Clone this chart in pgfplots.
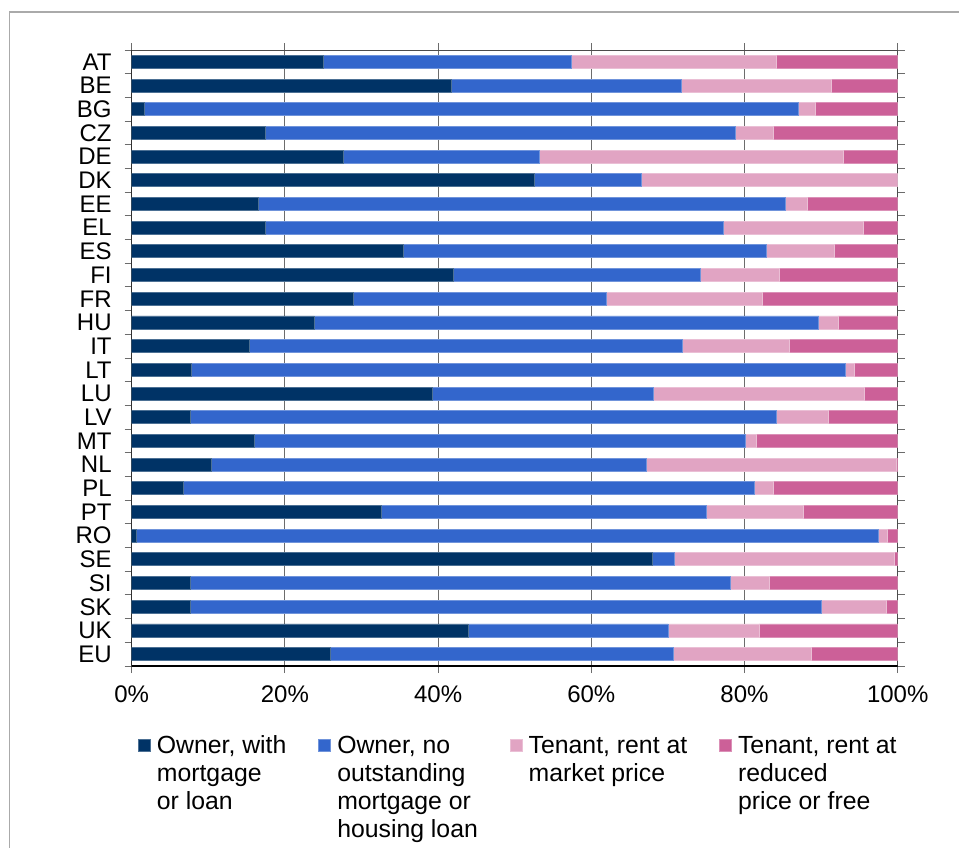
\documentclass[border=0pt]{standalone}
\usepackage{fontspec}
\setmainfont{Liberation Sans}
\usepackage{pgfplots}
\usepackage{pgfplotstable}
\pgfplotsset{compat=1.18}

\definecolor{ownmort}{RGB}{0,51,102}
\definecolor{ownfree}{RGB}{51,102,204}
\definecolor{tenmkt}{RGB}{225,164,195}
\definecolor{tenred}{RGB}{204,96,152}
\definecolor{frame}{RGB}{170,170,170}

% shares of population by tenure status, %
\pgfplotstableread{
i  c   a     b     t     r
0  AT  25.0  32.4  26.7  15.9
1  BE  41.7  30.0  19.7   8.6
2  BG   1.7  85.3   2.2  10.8
3  CZ  17.5  61.3   5.0  16.2
4  DE  27.7  25.5  39.7   7.1
5  DK  52.6  14.0  33.4   0.0
6  EE  16.6  68.8   2.8  11.8
7  EL  17.4  59.8  18.3   4.5
8  ES  35.5  47.4   8.9   8.2
9  FI  42.0  32.3  10.2  15.5
10 FR  29.0  33.0  20.3  17.7
11 HU  23.8  65.9   2.5   7.8
12 IT  15.4  56.5  14.0  14.1
13 LT   7.8  85.4   1.2   5.6
14 LU  39.3  28.8  27.6   4.3
15 LV   7.6  76.5   6.8   9.1
16 MT  16.0  64.1   1.4  18.5
17 NL  10.4  56.8  32.6   0.2
18 PL   6.7  74.6   2.5  16.2
19 PT  32.6  42.4  12.7  12.3
20 RO   0.6  96.9   1.2   1.3
21 SE  68.0   2.8  28.8   0.4
22 SI   7.6  70.5   5.1  16.8
23 SK   7.6  82.4   8.5   1.5
24 UK  43.9  26.1  11.9  18.1
25 EU  26.0  44.7  18.0  11.3
}\tenure

\begin{document}
\begin{tikzpicture}
\useasboundingbox (0,0) rectangle (479.5pt,423.5pt);
\draw[frame, line width=0.8pt] (4.75pt,-5pt) -- (4.75pt,417.5pt) -- (490pt,417.5pt);
\begin{axis}[
  at={(65.85pt,90.5pt)}, anchor=south west,
  scale only axis, width=383pt, height=308pt,
  xbar stacked, bar width=6.5pt,
  xmin=0, xmax=100, ymin=-0.5, ymax=25.5, y dir=reverse,
  xtick={0,20,40,60,80,100},
  xticklabels={0\%,20\%,40\%,60\%,80\%,100\%},
  ytick={0,...,25},
  yticklabels={AT,BE,BG,CZ,DE,DK,EE,EL,ES,FI,FR,HU,IT,LT,LU,LV,MT,NL,PL,PT,RO,SE,SI,SK,UK,EU},
  minor ytick={-0.5,0.5,...,25.5},
  xmajorgrids, grid style={gray!85!black, line width=0.5pt},
  tick align=outside, major tick length=3.5pt, minor tick length=3.5pt,
  every major y tick/.style={draw=none},
  tick style={gray!85!black, line width=0.5pt},
  axis line style={gray!60!black, line width=0.5pt},
  tick label style={font=\fontsize{12pt}{14pt}\selectfont},
  yticklabel style={xshift=-3pt},
  xticklabel style={yshift=-3pt},
  legend columns=4,
  legend cell align=left,
  legend style={draw=none, fill=none, at={(0,-0.097)}, anchor=north west,
    font=\fontsize{12.4pt}{14pt}\selectfont,
    /tikz/every odd column/.append style={column sep=1pt},
    /tikz/every even column/.append style={column sep=14pt}},
  legend image code/.code={\fill[#1] (0pt,-3pt) rectangle (6pt,3pt);},
]
\addplot[fill=ownmort, draw=ownmort!70!white, line width=0.4pt] table[x=a, y=i] {\tenure};
\addlegendentry{\begin{tabular}[t]{@{}l@{}}Owner, with\\mortgage\\or loan\end{tabular}}
\addplot[fill=ownfree, draw=ownfree!70!white, line width=0.4pt] table[x=b, y=i] {\tenure};
\addlegendentry{\begin{tabular}[t]{@{}l@{}}Owner, no\\outstanding\\mortgage or\\housing loan\end{tabular}}
\addplot[fill=tenmkt, draw=tenmkt!70!white, line width=0.4pt] table[x=t, y=i] {\tenure};
\addlegendentry{\begin{tabular}[t]{@{}l@{}}Tenant, rent at\\market price\end{tabular}}
\addplot[fill=tenred, draw=tenred!70!white, line width=0.4pt] table[x=r, y=i] {\tenure};
\addlegendentry{\begin{tabular}[t]{@{}l@{}}Tenant, rent at\\reduced\\price or free\end{tabular}}
\draw[black, line width=0.6pt] (axis cs:0,-0.5) -- (axis cs:0,25.5) -- (axis cs:100,25.5);
\end{axis}
\end{tikzpicture}
\end{document}
